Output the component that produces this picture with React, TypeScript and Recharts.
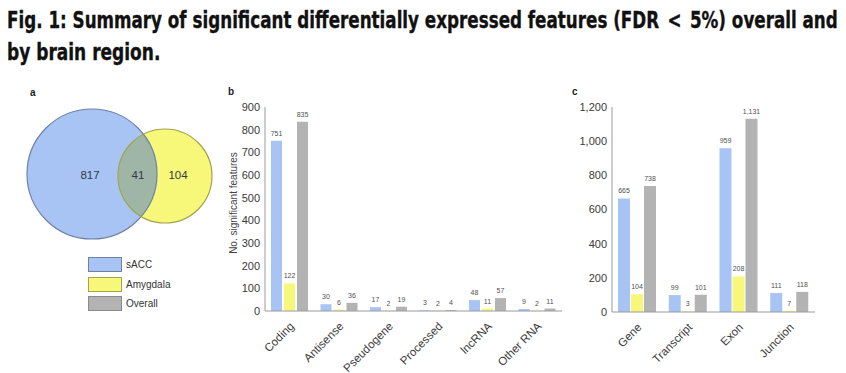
import React, { useLayoutEffect, useRef, useState } from 'react';
import { BarChart, Bar, XAxis, YAxis, LabelList, ScatterChart, Scatter } from 'recharts';

// ---------- data ----------
const seriesNames = ['sACC', 'Amygdala', 'Overall'];

const featureTypes = ['Coding', 'Antisense', 'Pseudogene', 'Processed', 'lncRNA', 'Other RNA'];
const featureSacc = [751, 30, 17, 3, 48, 9];
const featureAmygdala = [122, 6, 2, 2, 11, 2];
const featureOverall = [835, 36, 19, 4, 57, 11];
const featureTicks = [0, 100, 200, 300, 400, 500, 600, 700, 800, 900];

const levelTypes = ['Gene', 'Transcript', 'Exon', 'Junction'];
const levelSacc = [665, 99, 959, 111];
const levelAmygdala = [104, 3, 208, 7];
const levelOverall = [738, 101, 1131, 118];
const levelTicks = [0, 200, 400, 600, 800, 1000, 1200];

const vennRegions = ['sACC only', 'Both', 'Amygdala only'];
const vennCounts = [817, 41, 104];

const titleLines = [
  'Fig. 1: Summary of significant differentially expressed features (FDR\u2002<\u20025%) overall and',
  'by brain region.',
];

// ---------- styles / layout ----------
const COLORS = ['#a8c4f4', '#f7f77a', '#b3b3b3'];
const STROKES = ['#6f82a6', '#a3a34c', '#8a8a8a'];
const OVERLAP = '#9fb6a6';
const FONT = "'Liberation Sans', Arial, Helvetica, sans-serif";
const TITLE_FONT = "'DejaVu Sans Condensed', 'DejaVu Sans', sans-serif";
const AXIS = '#9a9a9a';

const VENN_BOX = { left: 20, top: 95, width: 210, height: 160 };
const vennCircles = [
  { cx: 92, cy: 174, r: 65 },
  { cx: 165, cy: 176, r: 47 },
];
const vennLabelPos = [
  { x: 90, y: 175 },
  { x: 138, y: 175 },
  { x: 178, y: 175 },
];

const featureData = featureTypes.map((name, i) => ({
  name,
  sACC: featureSacc[i],
  Amygdala: featureAmygdala[i],
  Overall: featureOverall[i],
}));
const levelData = levelTypes.map((name, i) => ({
  name,
  sACC: levelSacc[i],
  Amygdala: levelAmygdala[i],
  Overall: levelOverall[i],
}));

const circleData = seriesNames.slice(0, 2).map((s, i) => ({
  x: vennCircles[i].cx,
  y: vennCircles[i].cy,
  r: vennCircles[i].r,
  idx: i,
  set: s,
}));
const overlapData = [{ x: vennCircles[1].cx, y: vennCircles[1].cy, r: vennCircles[1].r }];
const labelData = vennRegions.map((region, i) => ({
  x: vennLabelPos[i].x,
  y: vennLabelPos[i].y,
  region,
  count: vennCounts[i],
}));

function FitText({ text, width, left, top, fontSize }: any) {
  const ref = useRef<HTMLSpanElement>(null);
  const [k, setK] = useState(1);
  useLayoutEffect(() => {
    const measure = () => {
      if (ref.current) {
        const w = ref.current.offsetWidth;
        if (w > 0) setK(width / w);
      }
    };
    measure();
    if ((document as any).fonts && (document as any).fonts.ready) {
      (document as any).fonts.ready.then(measure);
    }
  }, [text, width]);
  return (
    <span
      ref={ref}
      style={{
        position: 'absolute',
        left,
        top,
        whiteSpace: 'nowrap',
        fontFamily: TITLE_FONT,
        fontStretch: 'condensed',
        fontWeight: 'bold',
        fontSize,
        lineHeight: 1,
        color: '#111',
        WebkitTextStroke: '0.35px #111',
        transform: `scaleX(${k})`,
        transformOrigin: '0 0',
      }}
    >
      {text}
    </span>
  );
}

const RotTick = (props: any) => {
  const { x, y, payload } = props;
  return (
    <g transform={`translate(${x + 5},${y + 8}) rotate(-45)`}>
      <text x={0} y={0} textAnchor="end" fontSize={11.5} fontFamily={FONT} fill="#3a3a3a">
        {payload.value}
      </text>
    </g>
  );
};

const YLabel = (props: any) => {
  const vb = props.viewBox || {};
  const cx = vb.x + 3;
  const cy = vb.y + vb.height / 2 - 6;
  return (
    <text
      x={cx}
      y={cy}
      transform={`rotate(-90 ${cx} ${cy})`}
      textAnchor="middle"
      dominantBaseline="central"
      fontSize={10}
      fontFamily={FONT}
      fill="#444"
    >
      No. significant features
    </text>
  );
};

const labelStyle = { fontSize: 7, fontFamily: FONT, fill: '#505050' };

function GroupedBars({ data, width, height, margin, ticks, yWidth, barSize, barGap, withLabel, fmt, plotH }: any) {
  return (
    <BarChart width={width} height={height} data={data} margin={margin} barGap={barGap} barSize={barSize}>
      <XAxis
        dataKey="name"
        interval={0}
        tick={<RotTick />}
        tickLine={false}
        axisLine={{ stroke: AXIS }}
        height={height - margin.top - margin.bottom - plotH}
      />
      <YAxis
        domain={[0, ticks[ticks.length - 1]]}
        ticks={ticks}
        interval={0}
        width={yWidth}
        tickLine={false}
        tickSize={3}
        tickMargin={2}
        axisLine={{ stroke: AXIS }}
        tick={{ fontSize: 11, fontFamily: FONT, fill: '#3a3a3a' }}
        tickFormatter={fmt}
        label={withLabel ? <YLabel /> : undefined}
      />
      {seriesNames.map((s, i) => (
        <Bar key={s} dataKey={s} fill={COLORS[i]} isAnimationActive={false}>
          <LabelList
            dataKey={s}
            position="top"
            offset={5}
            style={labelStyle}
            formatter={(v: any) => Number(v).toLocaleString('en-US')}
          />
        </Bar>
      ))}
    </BarChart>
  );
}

const fillShape = (props: any) => {
  const { cx, cy, payload } = props;
  return <circle cx={cx} cy={cy} r={payload.r} fill={COLORS[payload.idx]} />;
};
const strokeShape = (props: any) => {
  const { cx, cy, payload } = props;
  return <circle cx={cx} cy={cy} r={payload.r} fill="none" stroke={STROKES[payload.idx]} strokeWidth={1.2} />;
};
const overlapShape = (props: any) => {
  const { cx, cy, payload } = props;
  const b = vennCircles[0];
  const dx = cx - payload.x;
  const dy = cy - payload.y;
  return (
    <g>
      <defs>
        <clipPath id="vennBlueClip">
          <circle cx={b.cx + dx} cy={b.cy + dy} r={b.r} />
        </clipPath>
      </defs>
      <circle cx={cx} cy={cy} r={payload.r} fill={OVERLAP} clipPath="url(#vennBlueClip)" />
    </g>
  );
};
const textShape = (props: any) => {
  const { cx, cy, payload } = props;
  return (
    <text x={cx} y={cy} textAnchor="middle" dominantBaseline="central" fontSize={11.5} fontFamily={FONT} fill="#2f3a4a">
      {payload.count}
    </text>
  );
};

function Venn() {
  const { left, top, width, height } = VENN_BOX;
  return (
    <ScatterChart width={width} height={height} margin={{ top: 0, right: 0, bottom: 0, left: 0 }}>
      <XAxis type="number" dataKey="x" domain={[left, left + width]} hide />
      <YAxis type="number" dataKey="y" domain={[top, top + height]} reversed hide />
      <Scatter data={circleData} shape={fillShape} isAnimationActive={false} />
      <Scatter data={overlapData} shape={overlapShape} isAnimationActive={false} />
      <Scatter data={circleData} shape={strokeShape} isAnimationActive={false} />
      <Scatter data={labelData} shape={textShape} isAnimationActive={false} />
    </ScatterChart>
  );
}

export default function App() {
  const panelLabel = (t: string, x: number, y: number) => (
    <div
      style={{
        position: 'absolute',
        left: x,
        top: y,
        fontFamily: FONT,
        fontWeight: 'bold',
        fontSize: 10,
        color: '#222',
        lineHeight: 1,
      }}
    >
      {t}
    </div>
  );
  return (
    <div
      style={{
        position: 'absolute',
        left: 0,
        top: 0,
        width: 846,
        height: 373,
        background: '#fff',
        overflow: 'hidden',
      }}
    >
      <FitText text={titleLines[0]} width={831} left={7} top={9} fontSize={23} />
      <FitText text={titleLines[1]} width={153} left={7} top={41} fontSize={23} />

      {panelLabel('a', 30, 88)}
      {panelLabel('b', 228, 87)}
      {panelLabel('c', 572, 87)}

      <div style={{ position: 'absolute', left: VENN_BOX.left, top: VENN_BOX.top }}>
        <Venn />
      </div>

      {seriesNames.map((s, i) => (
        <div key={s} style={{ position: 'absolute', left: 88, top: 257 + i * 19.5, height: 14 }}>
          <div
            style={{
              position: 'absolute',
              left: 0,
              top: 0,
              width: 32,
              height: 13,
              background: COLORS[i],
              border: `1px solid ${STROKES[i]}`,
            }}
          />
          <div
            style={{
              position: 'absolute',
              left: 38,
              top: 0,
              fontFamily: FONT,
              fontSize: 10,
              lineHeight: '15px',
              color: '#333',
              whiteSpace: 'nowrap',
            }}
          >
            {s}
          </div>
        </div>
      ))}

      <div style={{ position: 'absolute', left: 220, top: 85 }}>
        <GroupedBars
          data={featureData}
          width={350}
          height={288}
          margin={{ top: 22, right: 8, bottom: 4, left: 10 }}
          ticks={featureTicks}
          yWidth={35}
          barSize={11}
          barGap={2}
          plotH={204}
          withLabel
        />
      </div>

      <div style={{ position: 'absolute', left: 570, top: 85 }}>
        <GroupedBars
          data={levelData}
          width={276}
          height={288}
          margin={{ top: 22, right: 31, bottom: 4, left: 10 }}
          ticks={levelTicks}
          yWidth={32}
          barSize={12}
          barGap={1}
          plotH={205}
          fmt={(v: number) => v.toLocaleString('en-US')}
        />
      </div>
    </div>
  );
}
